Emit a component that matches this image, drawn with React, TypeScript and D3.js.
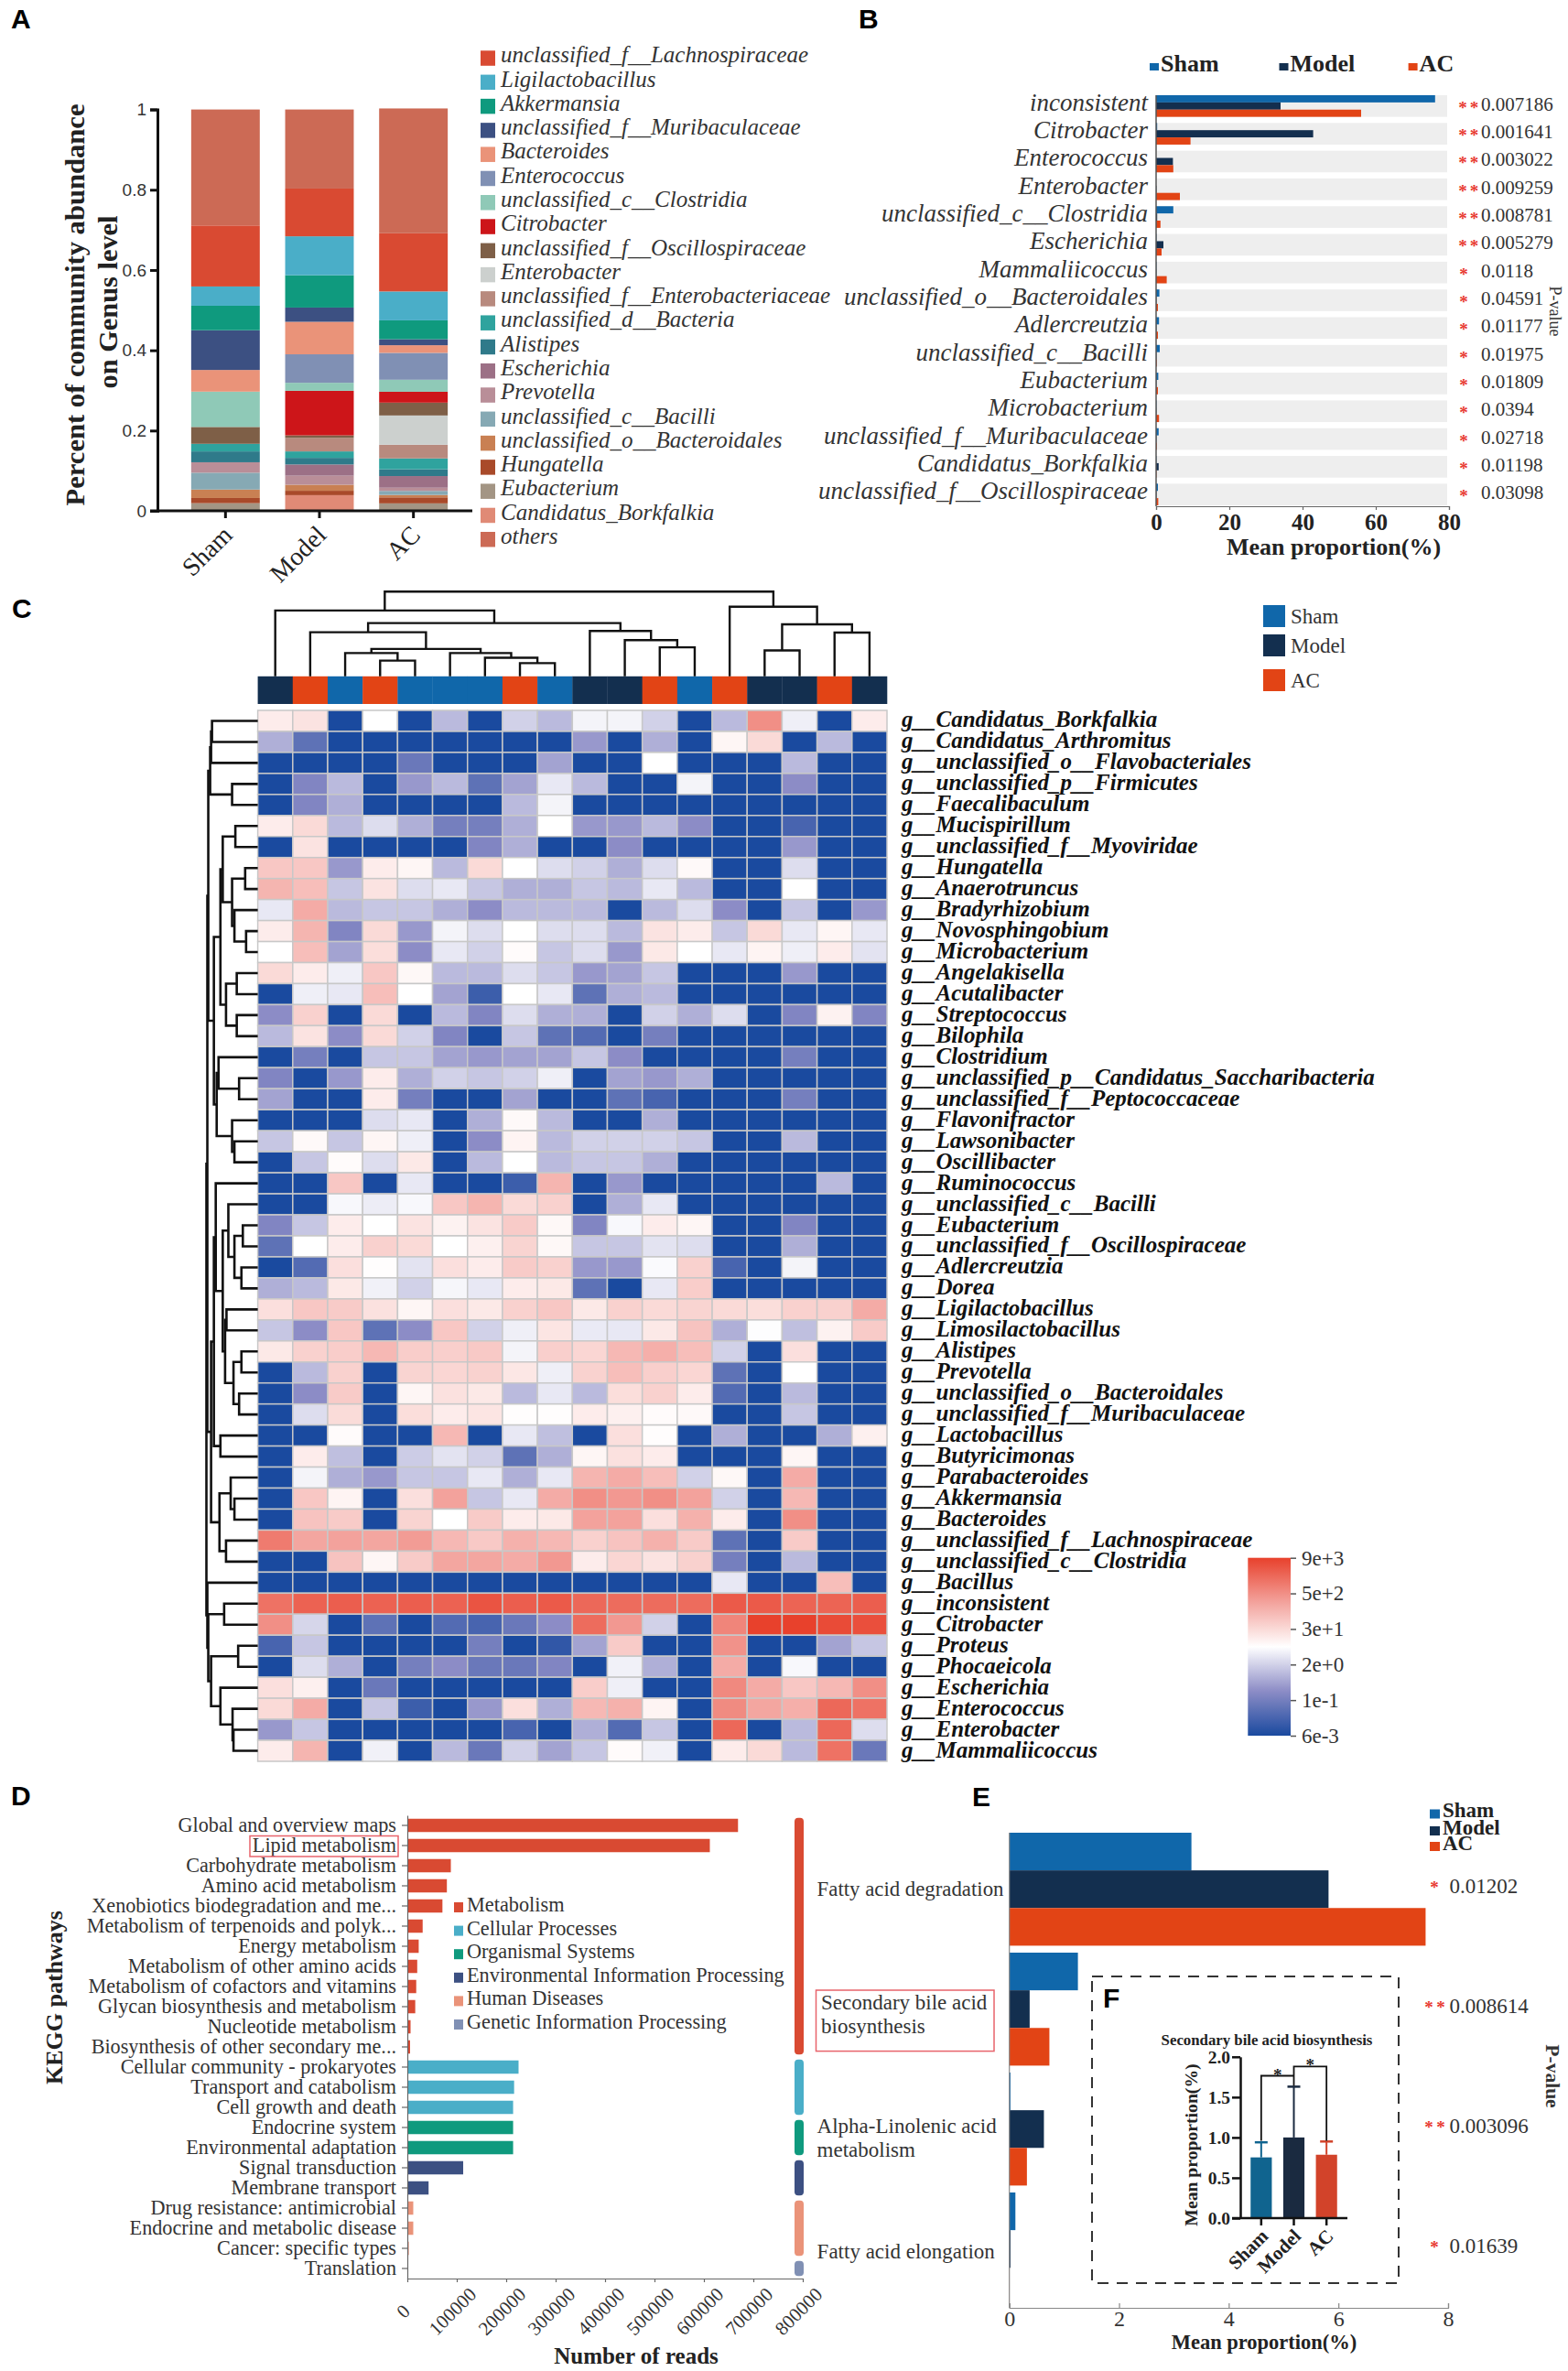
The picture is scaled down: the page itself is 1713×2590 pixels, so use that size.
import React, { useEffect, useRef } from "react";
import * as d3 from "d3";

const SERIF = "'Liberation Serif', serif";
const SANS = "'Liberation Sans', sans-serif";

const groups = ["Sham", "Model", "AC"];
const groupColors = ["#1067aa", "#132f4f", "#e24415"];

// panel A
const genera = [
  "unclassified_f__Lachnospiraceae", "Ligilactobacillus", "Akkermansia", "unclassified_f__Muribaculaceae",
  "Bacteroides", "Enterococcus", "unclassified_c__Clostridia", "Citrobacter", "unclassified_f__Oscillospiraceae",
  "Enterobacter", "unclassified_f__Enterobacteriaceae", "unclassified_d__Bacteria", "Alistipes", "Escherichia",
  "Prevotella", "unclassified_c__Bacilli", "unclassified_o__Bacteroidales", "Hungatella", "Eubacterium",
  "Candidatus_Borkfalkia", "others",
];
const generaColors = [
  "#d94a32", "#4aaec8", "#0f9a7e", "#3c5082", "#ea9379", "#8090b4", "#8fc9b7", "#cd1519", "#7e5f47", "#ccd0ce",
  "#b88a7e", "#2fa39e", "#2f7a8a", "#9c7086", "#b98e98", "#86a9b4", "#c98053", "#a94a2a", "#a39584", "#e08a76", "#cc6a55",
];
const shamAbundance = [0.152, 0.048, 0.061, 0.099, 0.054, 0, 0.088, 0, 0.042, 0, 0, 0.019, 0.027, 0, 0.026, 0.042, 0.021, 0.013, 0.019, 0, 0.289];
const modelAbundance = [0.119, 0.097, 0.0805, 0.0355, 0.081, 0.071, 0.02, 0.111, 0.0064, 0, 0.0336, 0.016, 0.0165, 0.028, 0.0225, 0, 0.015, 0.011, 0, 0.039, 0.197];
const acAbundance = [0.145, 0.072, 0.047, 0.015, 0.019, 0.067, 0.03, 0.027, 0.032, 0.073, 0.034, 0.027, 0.017, 0.029, 0.008, 0.01, 0.006, 0.015, 0.0186, 0, 0.311];

// panel B
const diffGenera = [
  "inconsistent", "Citrobacter", "Enterococcus", "Enterobacter", "unclassified_c__Clostridia", "Escherichia",
  "Mammaliicoccus", "unclassified_o__Bacteroidales", "Adlercreutzia", "unclassified_c__Bacilli", "Eubacterium",
  "Microbacterium", "unclassified_f__Muribaculaceae", "Candidatus_Borkfalkia", "unclassified_f__Oscillospiraceae",
];
const diffSham = [76.2, 0.3, 0, 0, 4.7, 0.1, 0.1, 0.9, 0.8, 1.0, 0.6, 0.1, 0.7, 0.1, 0.5];
const diffModel = [34, 42.9, 4.6, 0.1, 0.3, 2.0, 0.1, 0.1, 0.1, 0.1, 0.1, 0.1, 0.1, 0.7, 0.1];
const diffAC = [56, 9.4, 4.7, 6.5, 1.2, 1.5, 2.9, 0.5, 0.5, 0.2, 0.5, 0.8, 0.2, 0.1, 0.6];
const diffP = ["0.007186", "0.001641", "0.003022", "0.009259", "0.008781", "0.005279", "0.0118", "0.04591", "0.01177", "0.01975", "0.01809", "0.0394", "0.02718", "0.01198", "0.03098"];

// panel C
const heatGenera = [
  "Candidatus_Borkfalkia", "Candidatus_Arthromitus", "unclassified_o__Flavobacteriales", "unclassified_p__Firmicutes",
  "Faecalibaculum", "Mucispirillum", "unclassified_f__Myoviridae", "Hungatella", "Anaerotruncus", "Bradyrhizobium",
  "Novosphingobium", "Microbacterium", "Angelakisella", "Acutalibacter", "Streptococcus", "Bilophila", "Clostridium",
  "unclassified_p__Candidatus_Saccharibacteria", "unclassified_f__Peptococcaceae", "Flavonifractor", "Lawsonibacter",
  "Oscillibacter", "Ruminococcus", "unclassified_c__Bacilli", "Eubacterium", "unclassified_f__Oscillospiraceae",
  "Adlercreutzia", "Dorea", "Ligilactobacillus", "Limosilactobacillus", "Alistipes", "Prevotella",
  "unclassified_o__Bacteroidales", "unclassified_f__Muribaculaceae", "Lactobacillus", "Butyricimonas", "Parabacteroides",
  "Akkermansia", "Bacteroides", "unclassified_f__Lachnospiraceae", "unclassified_c__Clostridia", "Bacillus", "inconsistent",
  "Citrobacter", "Proteus", "Phocaeicola", "Escherichia", "Enterococcus", "Enterobacter", "Mammaliicoccus",
];
const sampleGroups = [1, 2, 0, 2, 0, 0, 0, 2, 0, 1, 1, 2, 0, 2, 1, 1, 2, 1];
// colour level of every cell: -10 deep blue, 0 white, 10 deep red
const heatLevels = [
  [1, 1.5, -10, 0, -10, -3, -10, -2, -3, -0.5, -0.5, -2, -10, -3, 6, -0.7, -10, 1],
  [-3.5, -7, -10, -10, -10, -10, -10, -10, -10, -4.5, -10, -3.5, -10, 0.5, 2, -10, -3, -10],
  [-10, -10, -10, -10, -6.5, -10, -10, -10, -4, -10, -10, 0, -10, -10, -10, -3, -10, -10],
  [-10, -5.5, -3, -10, -4.5, -3, -7, -4, -1, -3, -10, -10, -0.5, -10, -10, -5, -10, -10],
  [-10, -5.5, -3.5, -10, -10, -10, -10, -3, -0.5, -10, -10, -10, -10, -10, -10, -10, -10, -10],
  [1, 2, -3, -1.5, -3.5, -6, -6, -3.5, 0, -4.5, -4.5, -3, -5, -10, -10, -8, -10, -10],
  [-10, 1.5, -10, -10, -10, -10, -5.5, -3.5, -10, -10, -5, -10, -10, -10, -10, -4.5, -10, -10],
  [3, 3, -4.5, 1, 0.5, -3, 2, 0, -1.5, -2, -3.5, -1.5, 0.3, -10, -10, -1.5, -10, -10],
  [4, 3.5, -2.5, 1.5, -1.5, -1, -2.5, -3.5, -3.5, -2.5, -3, -1, -3, -10, -10, 0, -10, -10],
  [-1, 4.5, -3, -2.5, -2.5, -3.5, -5, -3, -3, -3, -10, -3, -1.5, -5, -10, -2.5, -10, -4.5],
  [1, 4, -5.5, 2, -4.5, -0.5, -1.5, 0, -1.5, -1.5, -3, 1.5, 1, -2.5, 2, -1, 0.5, -1],
  [0, 3.5, -4, 1.8, -5, -1, -2, 0.2, -2.5, -1.5, -4.5, 1.2, 0, -1, 0.6, -0.7, 1, -1.2],
  [2, 1, -0.7, 3, 0.4, -3, -3, -1.5, -2.5, -4.5, -4, -2.5, -10, -10, -10, -4.5, -10, -10],
  [-10, -0.7, -1, 3.5, 0, -4, -8.5, 0, -1, -7, -3.5, -3, -10, -10, -10, -10, -10, -10],
  [-5, 2.5, -10, 2, -10, -3, -5.5, -1.5, -3.5, -3.5, -10, -2, -3.5, -1.5, -10, -5.5, 0.7, -5.5],
  [-3, 1.5, -5, 2, -2, -5.5, -10, -2.5, -7, -7.5, -10, -6, -10, -10, -10, -10, -10, -10],
  [-10, -6, -10, -2.5, -2.5, -4, -4.5, -4, -4, -2.5, -5, -10, -10, -10, -10, -6, -10, -10],
  [-5.5, -10, -4.5, 1, -3.5, -2, -2.5, -2, -0.7, -10, -4, -4.5, -3.5, -10, -10, -10, -10, -10],
  [-4, -10, -10, 1, -6, -10, -10, -4, -10, -10, -7, -8, -10, -10, -10, -6, -10, -10],
  [-10, -10, -10, -1.5, -1, -10, -3.5, 0.3, -3, -10, -10, -3.5, -10, -10, -10, -10, -10, -10],
  [-2.5, 0.3, -2.5, 0.5, -0.7, -10, -5, 0.6, -3, -2, -2, -2, -2.5, -10, -10, -3, -10, -10],
  [-10, -2.5, 0.2, -1.5, 1.2, -10, -3, 0, -3, -2.5, -2.5, -3.5, -10, -10, -10, -10, -10, -10],
  [-10, -10, 3, -10, -1, -10, -10, -8.5, 4, -10, -4.5, -10, -10, -10, -10, -10, -3, -10],
  [-10, -10, -0.3, -0.8, -0.3, 3, 4, 2, 2.5, -10, -3.5, -1, -10, -10, -10, -10, -10, -10],
  [-5.5, -2.5, 1, 0, 1.5, 0.7, 1.5, 2.8, 0.4, -5.5, -0.3, 1, 0.5, -10, -10, -5.5, -10, -10],
  [-7, 0, 1, 2.5, 2, 0, 0.8, 2.3, 0.4, -2.5, -2.5, -1.2, -1.5, -10, -10, -3.5, -10, -10],
  [-10, -7.5, 1.7, 0.1, -1.2, 1.7, 1, 2.8, 2.5, -4.5, -4.5, -0.2, 2.5, -8, -10, -0.5, -10, -10],
  [-3.5, -3, 1.2, -0.6, -2, -0.4, -1, 1, 1.2, -7, -10, -1, 2.7, -10, -10, -10, -10, -10],
  [1.7, 3, 2.8, 1.6, 0.5, 1.7, 1.2, 2.5, 3, 1.2, 2.5, 2, 2.3, 2, 1.8, 2.5, 2.5, 4.5],
  [-2.5, -5, 3, -7, -5, 3, -2, -0.7, 1.4, -0.9, -1, 1.2, 3.2, -3.5, -0.1, -2.8, 0.7, 2.8],
  [1.2, 2.5, 2.7, 3.8, 2.7, 2.6, 2.9, -0.5, 2.6, 2.2, 3.8, 4.3, 3.5, -2, -10, 1.7, -10, -10],
  [-10, -3, 2.5, -10, 2.3, 2.2, 2.4, 1.3, -0.7, 2.4, 3.5, 2.6, 2.2, -7, -10, 0, -10, -10],
  [-10, -5, 2.8, -10, 0.5, 1.6, 1.2, -3, -1, -3, 1.8, 2.5, 1, -7.5, -10, -3, -10, -10],
  [-10, -1.5, 1.9, -10, 1.8, 1, 1.4, 0.1, 0.1, 1, 0.8, 0.2, 0.3, -10, -10, -2.5, -10, -10],
  [-10, -10, 0.2, -10, -10, 3.8, -10, -1, -2.8, -10, 1.7, 0.1, -10, -3.5, -10, -10, -3.5, 0.8],
  [-10, 1, -2.8, -10, -2.2, -1.2, -2, -7, -3.5, 0.5, 1.6, 1, -10, -10, -10, 0.5, -10, -10],
  [-10, -0.5, -3.5, -4.5, -2.5, -2.5, -1, -3.5, -1, 4, 4.5, 3.5, -2, 0.4, -10, 4.5, -10, -10],
  [-10, 3, 0.6, -10, 1.7, 5, -2.5, -1, 4.5, 6, 5.5, 6, 5, -2, -10, 3.8, -10, -10],
  [-10, 3.2, 2.8, -10, 2.3, 0, 2.8, 1, 1.2, 5, 5, 1.7, 4.2, 1, -10, 6, -10, -10],
  [7, 4.8, 5, 4.8, 5.3, 3.8, 2.9, 4.2, 3.8, 2.5, 3.2, 4.2, 2.8, -7, -10, 2.8, -10, -10],
  [-10, -10, 3.2, 0.5, 2.8, 4.8, 4.8, 4.5, 5.5, 1, 2.2, 1.5, 2.5, -6, -10, -3, -10, -10],
  [-10, -10, -10, -10, -10, -10, -10, -10, -10, -10, -10, -10, -10, -1, -10, -10, 3.5, -10],
  [7.5, 8.3, 8.5, 8.3, 8.5, 8.3, 9, 8.5, 8.7, 8, 7.8, 7.8, 7.8, 8.7, 8.7, 8.2, 8.2, 8.5],
  [6, -1.8, -10, -7, -10, -7.5, -8, -6.5, -5, 7.8, 5.5, -2, -10, 6.5, 10, 10, 9.5, 9.3],
  [-8, -2.5, -10, -10, -10, -10, -6, -10, -9, -4, 2.8, -10, -10, 5.8, -10, -10, -4, -2.5],
  [-10, -1.5, -3.5, -10, -6, -5, -6.5, -6.5, -5.5, -10, -0.6, -3.5, -10, 4.5, -10, -0.3, -10, -10],
  [1.7, 0.8, -10, -6.5, -10, -10, -10, -10, -10, 2.7, -0.7, -10, -10, 6.3, 4.5, 3, 3.8, 6],
  [2, 4.5, -10, -2.5, -8.5, -10, -4.5, 1.7, -3.5, 3.8, 4.2, 0.6, -10, 6.2, 4.8, 4.3, 8, 7.5],
  [-4.5, -2.5, -10, -10, -10, -10, -10, -8, -10, -3.5, -7.5, -2.5, -10, 8, -10, -3, 8, -1.5],
  [1, 4, -10, -0.6, -10, -3, -6.5, -2, -4, -2.5, 0.2, -0.6, -10, 1, 2, -3, 7.5, -6.5],
];
const colorbarLabels = ["9e+3", "5e+2", "3e+1", "2e+0", "1e-1", "6e-3"];

// dendrograms: [merge distance, child, child], a plain number is a leaf index
type Tree = number | [number, Tree, Tree];
const colTree: Tree = [269,
  [209, 0, [169,
    [140, 1, [87, [74, 2, [50, 3, 4]], [74, 5, [59, 6, [42, 7, 8]]]]],
    [144, 9, [115, 10, [92, 11, 12]]]]],
  [221, 13, [165, [82, 14, 15], [139, 16, 17]]]];
const rowTree: Tree = [110,
  [108,
    [106,
      [102, [100, [98, 0, 1], 2], [55, 3, 4]],
      [94,
        [80, [75, [48, 5, 6], [55, [27, 7, 8], [50, 9, [25, 10, 11]]]], [68, [45, 12, 13], [45, 14, 15]]],
        [88, [84, 16, [40, 17, 18]], [55, 19, [50, 20, 21]]]]],
    [100,
      [94,
        [90, 22, [75, [63, 23, [50, [32, 24, 25], [35, 26, 27]]], [70, [67, 28, 29], [52, [35, 30, 31], [40, 32, 33]]]]],
        [80, 34, 35]],
      [82, [58, 36, [50, 37, 38]], [68, 39, 40]]]],
  [108, 41, [106, [72, 42, 43], [100, [42, 44, 45], [80, 46, [54, 47, [52, 48, 49]]]]]]];

// panel D
const pathways = [
  "Global and overview maps", "Lipid metabolism", "Carbohydrate metabolism", "Amino acid metabolism",
  "Xenobiotics biodegradation and me...", "Metabolism of terpenoids and polyk...", "Energy metabolism",
  "Metabolism of other amino acids", "Metabolism of cofactors and vitamins", "Glycan biosynthesis and metabolism",
  "Nucleotide metabolism", "Biosynthesis of other secondary me...", "Cellular community - prokaryotes",
  "Transport and catabolism", "Cell growth and death", "Endocrine system", "Environmental adaptation",
  "Signal transduction", "Membrane transport", "Drug resistance: antimicrobial", "Endocrine and metabolic disease",
  "Cancer: specific types", "Translation",
];
const pathwayReads = [669000, 612000, 88000, 80000, 71000, 31000, 23000, 20000, 18000, 16000, 6500, 5500, 225000, 216000, 214000, 214000, 214000, 113000, 43000, 12000, 12000, 3000, 500];
const pathwayClass = [0, 0, 0, 0, 0, 0, 0, 0, 0, 0, 0, 0, 1, 1, 1, 2, 2, 3, 3, 4, 4, 4, 5];
const classNames = ["Metabolism", "Cellular Processes", "Organismal Systems", "Environmental Information Processing", "Human Diseases", "Genetic Information Processing"];
const classColors = ["#d94a32", "#4aaec8", "#0f9a7e", "#3c5082", "#ea9379", "#8090b4"];
const readTicks = [0, 100000, 200000, 300000, 400000, 500000, 600000, 700000, 800000];

// panel E
const acidPathways = ["Fatty acid degradation", "Secondary bile acid biosynthesis", "Alpha-Linolenic acid metabolism", "Fatty acid elongation"];
const acidSham = [3.32, 1.25, 0.02, 0.11];
const acidModel = [5.82, 0.37, 0.63, 0.02];
const acidAC = [7.59, 0.73, 0.32, 0.005];
const acidP = ["0.01202", "0.008614", "0.003096", "0.01639"];

// panel F
const bileMean = [0.753, 1.0, 0.786];
const bileUpper = [0.94, 1.63, 0.95];
const bileColors = ["#10648f", "#1a2a40", "#d2432a"];
const bileTicks = [0, 0.5, 1, 1.5, 2];

type Sel = d3.Selection<any, any, any, any>;

function label(
  g: Sel, str: string, x: number, y: number, size: number,
  o: { family?: string; weight?: string; italic?: boolean; anchor?: string; fill?: string; rotate?: number; len?: number } = {}
) {
  const t = g.append("text")
    .attr("font-family", o.family ?? SERIF)
    .attr("font-size", size)
    .attr("font-weight", o.weight ?? "normal")
    .attr("font-style", o.italic ? "italic" : "normal")
    .attr("text-anchor", o.anchor ?? "start")
    .attr("fill", o.fill ?? "#222")
    .attr("transform", `translate(${x},${y}) rotate(${o.rotate ?? 0})`)
    .text(str);
  if (o.len) t.attr("textLength", o.len).attr("lengthAdjust", "spacingAndGlyphs");
  return t;
}

function styleAxis(g: Sel, stroke: string, width: number, size: number, family: string, weight = "normal", fill = "#222") {
  g.selectAll("path,line").attr("stroke", stroke).attr("stroke-width", width);
  g.selectAll("text").attr("font-size", size).attr("font-family", family).attr("font-weight", weight).attr("fill", fill);
}

function stars(g: Sel, p: string, yc: number, x2: number, x1: number, xs: number) {
  const draw = (x: number) => label(g, "*", x, yc + 8, 19, { anchor: "middle", fill: "#e8392f", weight: "bold" });
  if (+p < 0.01) { draw(x1); draw(x2); } else draw(xs);
}

function drawTree(g: Sel, tree: Tree, leafPos: (i: number) => number, dist: (d: number) => number, horizontal: boolean, width: number) {
  const walk = (n: Tree): { p: number; d: number } => {
    if (typeof n === "number") return { p: leafPos(n), d: 0 };
    const a = walk(n[1]);
    const b = walk(n[2]);
    const h = dist(n[0]);
    const path = d3.path();
    if (horizontal) {
      path.moveTo(dist(a.d), a.p); path.lineTo(h, a.p); path.lineTo(h, b.p); path.lineTo(dist(b.d), b.p);
    } else {
      path.moveTo(a.p, dist(a.d)); path.lineTo(a.p, h); path.lineTo(b.p, h); path.lineTo(b.p, dist(b.d));
    }
    g.append("path").attr("d", path.toString()).attr("fill", "none").attr("stroke", "#111").attr("stroke-width", width);
    return { p: (a.p + b.p) / 2, d: n[0] };
  };
  walk(tree);
}

function panelA(svg: Sel) {
  const g = svg.append("g");
  const y = d3.scaleLinear().domain([0, 1]).range([558, 119.6]);
  const x = d3.scaleBand().domain(groups).range([195, 503]).paddingInner(0.27).paddingOuter(0.135);
  const rows = [shamAbundance, modelAbundance, acAbundance].map((vals, i) => {
    const r: Record<string, any> = { group: groups[i] };
    genera.forEach((k, j) => (r[k] = vals[j]));
    return r;
  });
  const keys = [...genera.slice(0, 20)].reverse().concat("others");
  const stack = d3.stack<any>().keys(keys)(rows);
  stack.forEach((layer) => {
    const color = generaColors[genera.indexOf(layer.key)];
    layer.forEach((d: any) => {
      g.append("rect")
        .attr("x", x(d.data.group)!).attr("width", x.bandwidth())
        .attr("y", y(d[1])).attr("height", Math.max(0, y(d[0]) - y(d[1])))
        .attr("fill", color);
    });
  });
  const ya = g.append("g").attr("transform", "translate(172,0)")
    .call(d3.axisLeft(y).tickValues([0, 0.2, 0.4, 0.6, 0.8, 1]).tickFormat((d) => String(d)).tickSize(8).tickPadding(4));
  styleAxis(ya, "#111", 3, 19, SANS, "normal", "#333");
  const xa = g.append("g").attr("transform", "translate(0,558)")
    .call(d3.axisBottom(x).tickSize(8).tickSizeOuter(0));
  styleAxis(xa, "#111", 3, 28, SERIF);
  xa.select("path").remove();
  xa.selectAll("text").attr("y", 0).attr("dy", 0).attr("text-anchor", "end").attr("transform", "translate(9,28) rotate(-45)");
  g.append("line").attr("x1", 164).attr("x2", 516).attr("y1", 558).attr("y2", 558).attr("stroke", "#111").attr("stroke-width", 3);
  label(g, "Percent of community abundance", 92, 333, 29, { weight: "bold", anchor: "middle", rotate: -90, len: 439 });
  label(g, "on Genus level", 128, 330, 29, { weight: "bold", anchor: "middle", rotate: -90, len: 189 });
  const ly = d3.scalePoint<number>().domain(d3.range(genera.length)).range([63.3, 589]);
  genera.forEach((name, i) => {
    g.append("rect").attr("x", 525).attr("y", ly(i)! - 8).attr("width", 16).attr("height", 16.5).attr("fill", generaColors[i]);
    label(g, name, 547, ly(i)! + 5, 25, { italic: true, fill: "#333" });
  });
  label(g, "A", 12, 31, 30, { family: SANS, weight: "bold", fill: "#000" });
}

function panelB(svg: Sel) {
  const g = svg.append("g");
  const x = d3.scaleLinear().domain([0, 80]).range([1263, 1583]);
  const y = d3.scaleBand().domain(diffGenera).range([104, 552]).paddingInner(0.22).paddingOuter(0);
  const sub = d3.scaleBand().domain(groups).range([0, y.bandwidth()]);
  const series = [diffSham, diffModel, diffAC];
  diffGenera.forEach((name, i) => {
    const top = y(name)!;
    const yc = top + y.bandwidth() / 2;
    g.append("rect").attr("x", x(0)).attr("y", top).attr("width", 318).attr("height", y.bandwidth()).attr("fill", "#eeeeee");
    series.forEach((vals, s) => {
      g.append("rect").attr("x", x(0)).attr("y", top + sub(groups[s])!).attr("width", x(vals[i]) - x(0)).attr("height", sub.bandwidth()).attr("fill", groupColors[s]);
    });
    label(g, name, 1254, yc + 5, 27, { italic: true, anchor: "end", fill: "#333" });
    stars(g, diffP[i], yc, 1610.4, 1598, 1599);
    label(g, diffP[i], 1618, yc + 5, 21, { fill: "#333" });
  });
  g.append("line").attr("x1", x(0)).attr("x2", x(0)).attr("y1", 104).attr("y2", 553).attr("stroke", "#555").attr("stroke-width", 1.5);
  const xa = g.append("g").attr("transform", "translate(0,553)").call(d3.axisBottom(x).tickValues([0, 20, 40, 60, 80]).tickSize(4).tickPadding(4));
  styleAxis(xa, "#666", 1.2, 25, SERIF, "bold", "#222");
  label(g, "Mean proportion(%)", 1457, 606, 26, { weight: "bold", anchor: "middle" });
  label(g, "P-value", 1693, 340, 18, { anchor: "middle", rotate: 90, fill: "#333" });
  [1256, 1397.5, 1538.6].forEach((lx, i) => {
    g.append("rect").attr("x", lx).attr("y", 69).attr("width", 10).attr("height", 8).attr("fill", groupColors[i]);
    label(g, groups[i], lx + 12, 77.6, 26, { weight: "bold" });
  });
  label(g, "B", 938, 31, 30, { family: SANS, weight: "bold", fill: "#000" });
}

function panelC(svg: Sel) {
  const g = svg.append("g");
  const x = d3.scaleBand<number>().domain(d3.range(18)).range([281.6, 969]);
  const y = d3.scaleBand<number>().domain(d3.range(heatGenera.length)).range([776, 1924]);
  const color = d3.scaleLinear<string>().domain([-10, -5, 0, 5, 10]).range(["#1a4a9f", "#8c8cc6", "#ffffff", "#f3a29c", "#e8412c"]);
  sampleGroups.forEach((s, i) => {
    g.append("rect").attr("x", x(i)!).attr("y", 738.8).attr("width", x.bandwidth() + 0.3).attr("height", 30.2).attr("fill", groupColors[s]);
  });
  heatLevels.forEach((row, r) => {
    row.forEach((v, c) => {
      g.append("rect").attr("x", x(c)!).attr("y", y(r)!).attr("width", x.bandwidth()).attr("height", y.bandwidth())
        .attr("fill", color(v)).attr("stroke", "#c8c8c8").attr("stroke-width", 1.5);
    });
    label(g, "g__" + heatGenera[r], 985, y(r)! + y.bandwidth() / 2 + 7, 25, { weight: "bold", italic: true, fill: "#111" });
  });
  const colDist = d3.scaleLinear().domain([0, 269]).range([738.8, 646.2]);
  drawTree(g, colTree, (i) => x(i)! + x.bandwidth() / 2, colDist, false, 2.4);
  const rowDist = d3.scaleLinear().domain([0, 110]).range([281.6, 225.5]);
  drawTree(g, rowTree, (i) => y(i)! + y.bandwidth() / 2, rowDist, true, 2.6);
  [661, 693, 731].forEach((ly, i) => {
    g.append("rect").attr("x", 1380).attr("y", ly).attr("width", 24).attr("height", 24).attr("fill", groupColors[i]);
    label(g, groups[i], 1410, ly + 20, 23, { fill: "#333" });
  });
  // colour bar
  const barY = d3.scaleLinear().domain([10, -10]).range([1701.7, 1896]);
  const defs = svg.append("defs");
  const grad = defs.append("linearGradient").attr("id", "heatBar").attr("x1", 0).attr("x2", 0).attr("y1", 0).attr("y2", 1);
  d3.range(10, -10.5, -1).forEach((v) => {
    grad.append("stop").attr("offset", (10 - v) / 20).attr("stop-color", color(v));
  });
  g.append("rect").attr("x", 1363.3).attr("y", barY(10)).attr("width", 46.7).attr("height", barY(-10) - barY(10)).attr("fill", "url(#heatBar)");
  const tickY = d3.scalePoint<string>().domain(colorbarLabels).range([1701.7, 1896]);
  const ca = g.append("g").attr("transform", "translate(1410,0)").call(d3.axisRight(tickY).tickSize(6).tickPadding(6));
  styleAxis(ca, "#555", 1.5, 23, SERIF, "normal", "#333");
  ca.select("path").remove();
  label(g, "C", 13, 675, 30, { family: SANS, weight: "bold", fill: "#000" });
}

function panelD(svg: Sel) {
  const g = svg.append("g");
  const x = d3.scaleLinear().domain([0, 800000]).range([445, 877]);
  const y = d3.scaleBand().domain(pathways).range([1983, 2489]).paddingInner(0.34).paddingOuter(0.17);
  pathways.forEach((name, i) => {
    g.append("rect").attr("x", x(0)).attr("y", y(name)!).attr("width", x(pathwayReads[i]) - x(0)).attr("height", y.bandwidth()).attr("fill", classColors[pathwayClass[i]]);
  });
  classNames.forEach((_, c) => {
    const idx = pathways.filter((_, i) => pathwayClass[i] === c);
    const top = y(idx[0])! - 1;
    const bottom = y(idx[idx.length - 1])! + y.bandwidth() + 1;
    g.append("rect").attr("x", 868).attr("width", 10).attr("y", top).attr("height", bottom - top).attr("rx", 4).attr("fill", classColors[c]);
  });
  const ya = g.append("g").attr("transform", `translate(${x(0)},0)`).call(d3.axisLeft(y).tickSize(6).tickSizeOuter(0).tickPadding(6));
  styleAxis(ya, "#666", 1.2, 22.2, SERIF, "normal", "#333");
  const xa = g.append("g").attr("transform", "translate(0,2489)").call(d3.axisBottom(x).tickValues(readTicks).tickFormat((d) => String(d)).tickSize(4).tickSizeOuter(0));
  styleAxis(xa, "#666", 1.2, 21, SERIF, "normal", "#333");
  xa.selectAll("text").attr("y", 0).attr("dy", ".33em").attr("text-anchor", "middle").attr("transform", "translate(-5,36) rotate(-45)");
  g.append("rect").attr("x", 273).attr("y", 2005.5).attr("width", 162).attr("height", 22.5).attr("fill", "none").attr("stroke", "#e8636b").attr("stroke-width", 1.5);
  label(g, "Number of reads", 695, 2582, 25, { weight: "bold", anchor: "middle" });
  label(g, "KEGG pathways", 68, 2182, 26, { weight: "bold", anchor: "middle", rotate: -90 });
  const ly = d3.scaleLinear().domain([0, 5]).range([2083, 2211]);
  classNames.forEach((name, i) => {
    g.append("rect").attr("x", 496).attr("y", ly(i) - 5).attr("width", 10).attr("height", 11).attr("fill", classColors[i]);
    label(g, name, 510, ly(i) + 5, 22.3, { fill: "#333" });
  });
  label(g, "D", 12, 1972, 30, { family: SANS, weight: "bold", fill: "#000" });
}

function panelE(svg: Sel) {
  const g = svg.append("g");
  const x = d3.scaleLinear().domain([0, 8]).range([1102.7, 1582]);
  const y = d3.scaleBand().domain(acidPathways).range([2002, 2526]);
  const sub = d3.scaleBand().domain(groups).range([0, 123.4]);
  const series = [acidSham, acidModel, acidAC];
  acidPathways.forEach((name, i) => {
    series.forEach((vals, s) => {
      g.append("rect").attr("x", x(0)).attr("y", y(name)! + sub(groups[s])!).attr("width", x(vals[i]) - x(0)).attr("height", sub.bandwidth()).attr("fill", groupColors[s]);
    });
    const yc = y(name)! + 58;
    stars(g, acidP[i], yc, 1574, 1561, 1567);
    label(g, acidP[i], 1583.6, yc + 8, 23, { fill: "#333" });
  });
  g.append("line").attr("x1", x(0)).attr("x2", x(0)).attr("y1", 2002).attr("y2", 2521).attr("stroke", "#888").attr("stroke-width", 1.2);
  const xa = g.append("g").attr("transform", "translate(0,2521)").call(d3.axisBottom(x).tickValues([0, 2, 4, 6, 8]).tickSizeInner(-5).tickSizeOuter(-5).tickPadding(3));
  styleAxis(xa, "#888", 1.2, 24, SERIF, "normal", "#333");
  label(g, "Mean proportion(%)", 1381, 2566, 22.5, { weight: "bold", anchor: "middle" });
  label(g, "Fatty acid degradation", 892.6, 2071, 22.8, { fill: "#333" });
  label(g, "Secondary bile acid", 897, 2195, 23, { fill: "#333" });
  label(g, "biosynthesis", 897, 2221, 23, { fill: "#333" });
  g.append("rect").attr("x", 891.5).attr("y", 2174).attr("width", 194.5).attr("height", 66.6).attr("fill", "#fff").attr("fill-opacity", 0).attr("stroke", "#e8636b").attr("stroke-width", 1.5);
  label(g, "Alpha-Linolenic acid", 892.6, 2330, 23, { fill: "#333" });
  label(g, "metabolism", 892.6, 2356, 23, { fill: "#333" });
  label(g, "Fatty acid elongation", 892.6, 2467, 23, { fill: "#333" });
  label(g, "P-value", 1689, 2268, 21.5, { weight: "bold", anchor: "middle", rotate: 90, fill: "#333" });
  [1976.5, 1995, 2012].forEach((ly, i) => {
    g.append("rect").attr("x", 1562).attr("y", ly).attr("width", 11).attr("height", 10).attr("fill", groupColors[i]);
    label(g, groups[i], 1576, ly + 8.5, 23, { weight: "bold" });
  });
  label(g, "E", 1062, 1973, 30, { family: SANS, weight: "bold", fill: "#000" });
}

function panelF(svg: Sel) {
  const g = svg.append("g");
  g.append("rect").attr("x", 1193).attr("y", 2159).attr("width", 335).attr("height", 335).attr("fill", "#fff")
    .attr("stroke", "#333").attr("stroke-width", 2).attr("stroke-dasharray", "12,9");
  const y = d3.scaleLinear().domain([0, 2]).range([2423, 2246.8]);
  const x = d3.scaleBand().domain(groups).range([1360, 1467]).paddingInner(0.35).paddingOuter(0.175);
  groups.forEach((name, i) => {
    const cx = x(name)! + x.bandwidth() / 2;
    g.append("rect").attr("x", x(name)!).attr("width", x.bandwidth()).attr("y", y(bileMean[i])).attr("height", y(0) - y(bileMean[i])).attr("fill", bileColors[i]);
    g.append("line").attr("x1", cx).attr("x2", cx).attr("y1", y(bileMean[i])).attr("y2", y(bileUpper[i])).attr("stroke", bileColors[i]).attr("stroke-width", 2);
    g.append("line").attr("x1", cx - 7).attr("x2", cx + 7).attr("y1", y(bileUpper[i])).attr("y2", y(bileUpper[i])).attr("stroke", bileColors[i]).attr("stroke-width", 2.5);
  });
  // significance brackets
  const cx = (name: string) => x(name)! + x.bandwidth() / 2;
  const bracket = d3.path();
  bracket.moveTo(cx("Sham"), y(0.96)); bracket.lineTo(cx("Sham"), y(1.765)); bracket.lineTo(cx("Model"), y(1.765)); bracket.lineTo(cx("Model"), y(1.64));
  bracket.moveTo(cx("Model"), y(1.765)); bracket.lineTo(cx("Model"), y(1.88)); bracket.lineTo(cx("AC"), y(1.88)); bracket.lineTo(cx("AC"), y(0.96));
  g.append("path").attr("d", bracket.toString()).attr("fill", "none").attr("stroke", "#111").attr("stroke-width", 1.8);
  label(g, "*", (cx("Sham") + cx("Model")) / 2, y(1.765) + 5, 19, { anchor: "middle", weight: "bold" });
  label(g, "*", (cx("Model") + cx("AC")) / 2, y(1.88) + 5, 19, { anchor: "middle", weight: "bold" });
  const ya = g.append("g").attr("transform", "translate(1355,0)").call(d3.axisLeft(y).tickValues(bileTicks).tickFormat(d3.format(".1f")).tickSize(9).tickSizeOuter(0).tickPadding(2));
  styleAxis(ya, "#111", 2.5, 19.5, SERIF, "bold", "#222");
  const xa = g.append("g").attr("transform", "translate(0,2423)").call(d3.axisBottom(x).tickSize(8).tickSizeOuter(0));
  styleAxis(xa, "#111", 2.5, 21, SERIF, "bold", "#222");
  xa.select("path").remove();
  xa.selectAll("text").attr("y", 0).attr("dy", ".33em").attr("text-anchor", "end").attr("transform", "translate(4,16) rotate(-45)");
  g.append("line").attr("x1", 1346).attr("x2", 1472).attr("y1", 2423).attr("y2", 2423).attr("stroke", "#111").attr("stroke-width", 2.5);
  label(g, "Mean proportion(%)", 1308, 2343, 19.7, { weight: "bold", anchor: "middle", rotate: -90 });
  label(g, "Secondary bile acid biosynthesis", 1384, 2233.5, 16.8, { weight: "bold", anchor: "middle" });
  label(g, "F", 1205, 2193, 30, { family: SANS, weight: "bold", fill: "#000" });
}

export default function App() {
  const ref = useRef<SVGSVGElement | null>(null);

  useEffect(() => {
    const svg = d3.select(ref.current);
    svg.selectAll("*").remove();
    panelA(svg);
    panelB(svg);
    panelC(svg);
    panelD(svg);
    panelE(svg);
    panelF(svg);
  }, []);

  return <svg ref={ref} width={1713} height={2590} style={{ position: "absolute", left: 0, top: 0, background: "#fff" }} />;
}
